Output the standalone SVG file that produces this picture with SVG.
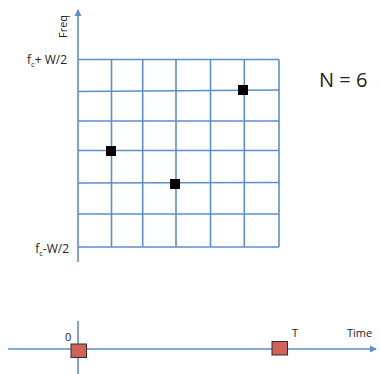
<svg xmlns="http://www.w3.org/2000/svg" width="380" height="374" viewBox="0 0 380 374">
<style>
.ax{stroke:#5b8fcb;stroke-width:1.6;fill:none}
.gr{stroke:#5b8fcb;stroke-width:1.6;fill:none}
.t{font-family:"Open Sans","Liberation Sans",sans-serif;fill:#222}
.pt{fill:#000}
.tk{fill:#d0625a;stroke:#3a2a2a;stroke-width:1}
</style>
<defs>
<marker id="ah" markerWidth="8" markerHeight="8" refX="6" refY="4" orient="auto" markerUnits="userSpaceOnUse">
<path d="M0,0.5 L7,4 L0,7.5 Z" fill="#5b8fcb"/>
</marker>
</defs>
<rect width="380" height="374" fill="#fff"/>
<g id="connectors">
<line class="ax" x1="78" y1="262" x2="78" y2="10" marker-end="url(#ah)"/>
<line class="ax" x1="8" y1="349" x2="376" y2="349" marker-end="url(#ah)"/>
<line class="ax" x1="78" y1="321" x2="78" y2="374"/>
</g>
<g id="grid">
<line class="gr" x1="78" y1="59.5" x2="279" y2="59.5"/>
<line class="gr" x1="78" y1="91.5" x2="279" y2="90"/>
<line class="gr" x1="78" y1="121" x2="279" y2="121"/>
<line class="gr" x1="78" y1="150.5" x2="279" y2="150.5"/>
<line class="gr" x1="78" y1="183" x2="279" y2="182.5"/>
<line class="gr" x1="78" y1="214" x2="279" y2="214"/>
<line class="gr" x1="78" y1="247" x2="279" y2="247"/>
<line class="gr" x1="111.5" y1="59.5" x2="111.5" y2="247"/>
<line class="gr" x1="142.7" y1="59.5" x2="142.7" y2="247"/>
<line class="gr" x1="176" y1="59.5" x2="176" y2="247"/>
<line class="gr" x1="210.5" y1="59.5" x2="210.5" y2="247"/>
<line class="gr" x1="244.3" y1="59.5" x2="244.3" y2="247"/>
<line class="gr" x1="279" y1="59.5" x2="279" y2="247"/>
</g>
<g id="points">
<rect class="pt" x="238" y="85" width="10" height="10"/>
<rect class="pt" x="106" y="146" width="10" height="10"/>
<rect class="pt" x="170" y="179" width="10" height="10"/>
</g>
<g id="labels">
<text class="t" font-size="11" transform="translate(67,38) rotate(-90)">Freq</text>
<text class="t" font-size="12" x="67" y="64" text-anchor="end">f<tspan font-size="7.5" dy="3">c</tspan><tspan dy="-3">+ W/2</tspan></text>
<text class="t" font-size="12" x="69" y="253" text-anchor="end">f<tspan font-size="7.5" dy="3">c</tspan><tspan dy="-3">-W/2</tspan></text>
<text class="t" font-size="20" x="319" y="87">N = 6</text>
</g>
<g id="time">
<rect class="tk" x="71" y="344" width="15.5" height="13.5"/>
<rect class="tk" x="272" y="341.5" width="15.5" height="13.5"/>
<text class="t" font-size="11" x="65" y="341">0</text>
<text class="t" font-size="11" x="292" y="337">T</text>
<text class="t" font-size="11" x="347" y="337">Time</text>
</g>
</svg>
